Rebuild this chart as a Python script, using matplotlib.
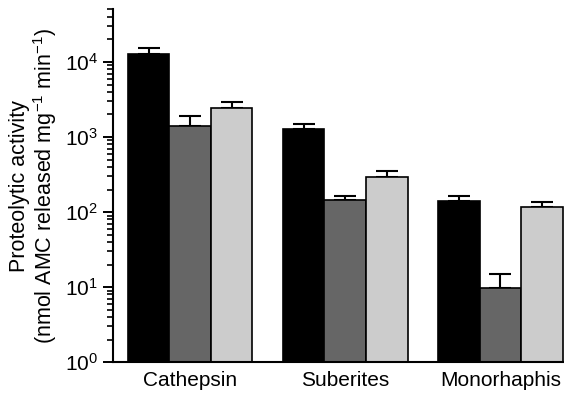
import numpy as np
import matplotlib
matplotlib.use("Agg")
import matplotlib.pyplot as plt

plt.rcParams['font.family'] = ['Liberation Sans', 'DejaVu Sans']
plt.rcParams['mathtext.fontset'] = 'custom'
plt.rcParams['mathtext.rm'] = 'Liberation Sans'
plt.rcParams['mathtext.it'] = 'Liberation Sans:italic'
plt.rcParams['mathtext.bf'] = 'Liberation Sans:bold'

# Data
groups = ["Cathepsin", "Suberites", "Monorhaphis"]
black_vals = [12900, 1290, 142]
black_err = [2300, 180, 24]
dark_vals = [1390, 147, 9.9]
dark_err = [490, 19, 5.1]
light_vals = [2450, 292, 117]
light_err = [450, 66, 21]

series = [
    (black_vals, black_err, "#000000"),
    (dark_vals, dark_err, "#666666"),
    (light_vals, light_err, "#cccccc"),
]

fig = plt.figure(figsize=(5.64, 3.94), dpi=100)
ax = fig.add_axes([0.2004, 0.0805, 0.7996, 0.8955])

x = np.arange(len(groups))
w = 0.268
for i, (vals, err, col) in enumerate(series):
    pos = x + (i - 1) * w
    ax.bar(pos, vals, width=w, color=col, edgecolor="black", linewidth=1.2,
           zorder=2)
    ax.errorbar(pos, vals, yerr=[np.zeros(len(vals)), err], fmt="none",
                ecolor="black", elinewidth=1.5, capsize=7.8, capthick=1.5,
                zorder=1)

ax.set_yscale("log")
ax.set_ylim(1, 5e4)
ax.set_xlim(-0.497, 2.41)
ax.set_xticks(x)
ax.set_xticklabels(groups, fontsize=15)
ax.tick_params(axis="x", length=0, pad=6)
ax.set_yticks([1, 10, 100, 1000, 10000])
ax.set_yticklabels([r"$10^{0}$", r"$10^{1}$", r"$10^{2}$", r"$10^{3}$", r"$10^{4}$"],
                   fontsize=15)
ax.tick_params(axis="y", which="major", length=7, width=1.4, direction="out", pad=4)
ax.tick_params(axis="y", which="minor", length=4.5, width=1.2, direction="out")

ax.spines["top"].set_visible(False)
ax.spines["right"].set_visible(False)
ax.spines["left"].set_linewidth(1.5)
ax.spines["bottom"].set_linewidth(1.5)

ax.set_ylabel("Proteolytic activity\n(nmol AMC released mg$^{-1}$ min$^{-1}$)",
              fontsize=15.5, linespacing=1.05, labelpad=4)

fig.savefig("out.png", dpi=100)
